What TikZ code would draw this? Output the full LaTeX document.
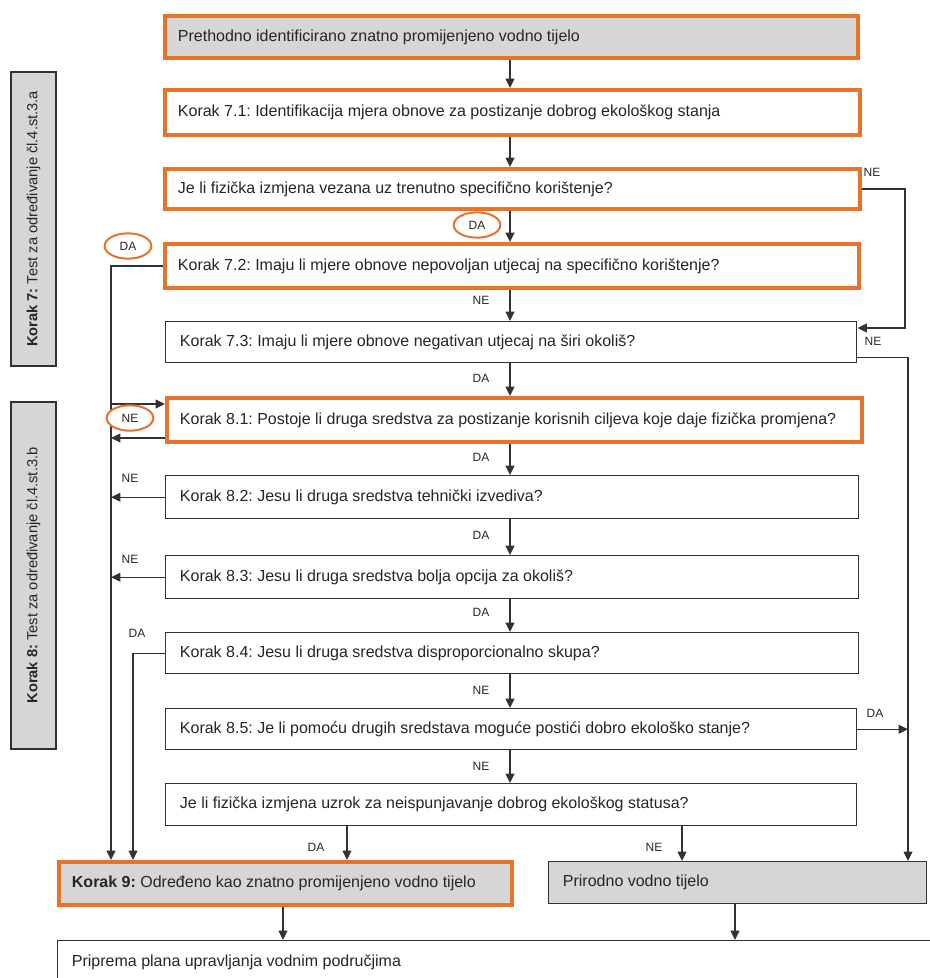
\documentclass[tikz,border=0pt]{standalone}
\usepackage{fontspec}
\setmainfont{Liberation Sans}
\usetikzlibrary{arrows.meta,calc,shapes.geometric}
\frenchspacing

\definecolor{hmorange}{RGB}{232,114,42}
\definecolor{hmgray}{RGB}{214,214,214}
\definecolor{hmline}{RGB}{50,50,50}

\tikzset{
  frame/.style={inner sep=0pt},
  keybox/.style={frame, draw=hmorange, line width=3pt, fill=white},
  keygray/.style={keybox, fill=hmgray},
  plainbox/.style={frame, draw=hmline, line width=1.1pt, fill=white},
  plaingray/.style={plainbox, fill=hmgray},
  sidebox/.style={frame, draw=hmline, line width=1.4pt, fill=hmgray},
  boxtext/.style={font=\fontsize{12}{14}\selectfont, text=black!85, inner sep=0pt},
  sidetext/.style={font=\fontsize{11}{13}\selectfont, text=black!85, inner sep=0pt, rotate=90},
  arr/.style={draw=hmline, line width=1.1pt, -{Triangle[length=7pt,width=6.5pt]}},
  link/.style={draw=hmline, line width=1.1pt},
  lab/.style={font=\fontsize{9}{10}\selectfont, text=black!85, inner sep=0pt},
  ring/.style={lab, ellipse, draw=hmorange, line width=1.5pt, fill=white,
               minimum width=35pt, minimum height=19pt}
}

% box with its text set flush left: style, name, x1, y1, x2, y2, text
\newcommand\flowbox[7]{%
  \pgfmathsetmacro\fbWidth{(#5-#3)*0.75}%
  \pgfmathsetmacro\fbHeight{(#6-#4)*0.75}%
  \node[#1, anchor=north west, minimum width=\fbWidth pt, minimum height=\fbHeight pt] (#2) at (#3,#4) {};
  \node[boxtext, anchor=west] (#2t) at ([xshift=11pt]#2.west) {#7};%
}

\begin{document}
\begin{tikzpicture}[x=0.75pt,y=-0.75pt]
\useasboundingbox (0,0) rectangle (930,978);

% guide columns for the connectors
\coordinate (mx) at (510,0);
\coordinate (lx) at (111,0);
\coordinate (lxb) at (133,0);
\coordinate (rx) at (905,0);
\coordinate (rxb) at (908,0);
\coordinate (dx) at (347,0);
\coordinate (nx) at (682,0);
\coordinate (bx) at (283,0);
\coordinate (bxb) at (735,0);

% side panels
\pgfmathsetmacro\sideW{45*0.75}
\node[sidebox, anchor=north west, minimum width=\sideW pt, minimum height={294*0.75pt}] (s7) at (10,71) {};
\node[sidetext] (s7t) at (s7.center) {\textbf{Korak 7:} Test za određivanje čl.4.st.3.a};
\node[sidebox, anchor=north west, minimum width=\sideW pt, minimum height={347*0.75pt}] (s8) at (10,401) {};
\node[sidetext] (s8t) at (s8.center) {\textbf{Korak 8:} Test za određivanje čl.4.st.3.b};

% main boxes
\flowbox{keygray}{p0}{163}{14}{856}{56}{Prethodno identificirano znatno promijenjeno vodno tijelo}
\flowbox{keybox}{k71}{163}{88}{858}{133}{Korak 7.1: Identifikacija mjera obnove za postizanje dobrog ekološkog stanja}
\flowbox{keybox}{q1}{163}{167}{858}{207}{Je li fizička izmjena vezana uz trenutno specifično korištenje?}
\flowbox{keybox}{k72}{163}{242}{857}{286}{Korak 7.2: Imaju li mjere obnove nepovoljan utjecaj na specifično korištenje?}
\flowbox{plainbox}{k73}{165}{321}{856}{362}{Korak 7.3: Imaju li mjere obnove negativan utjecaj na širi okoliš?}
\flowbox{keybox}{k81}{165}{396}{860}{440}{Korak 8.1: Postoje li druga sredstva za postizanje korisnih ciljeva koje daje fizička promjena?}
\flowbox{plainbox}{k82}{165}{475}{858}{518}{Korak 8.2: Jesu li druga sredstva tehnički izvediva?}
\flowbox{plainbox}{k83}{165}{555}{858}{598}{Korak 8.3: Jesu li druga sredstva bolja opcija za okoliš?}
\flowbox{plainbox}{k84}{165}{632}{858}{673}{Korak 8.4: Jesu li druga sredstva disproporcionalno skupa?}
\flowbox{plainbox}{k85}{165}{708}{856}{749}{Korak 8.5: Je li pomoću drugih sredstava moguće postići dobro ekološko stanje?}
\flowbox{plainbox}{q2}{165}{783}{856}{825}{Je li fizička izmjena uzrok za neispunjavanje dobrog ekološkog statusa?}
\flowbox{keygray}{k9}{57}{860}{510}{903}{\textbf{Korak 9:} Određeno kao znatno promijenjeno vodno tijelo}
\flowbox{plaingray}{pr}{548}{861}{926}{903}{Prirodno vodno tijelo}
\flowbox{plainbox}{pp}{57}{940}{945}{984}{Priprema plana upravljanja vodnim područjima}

% main column
\draw[arr] (p0.south -| mx) -- (k71.north -| mx);
\draw[arr] (k71.south -| mx) -- (q1.north -| mx);
\draw[arr] (q1.south -| mx) -- (k72.north -| mx);
\draw[arr] (k72.south -| mx) -- (k73.north -| mx);
\draw[arr] (k73.south -| mx) -- (k81.north -| mx);
\draw[arr] (k81.south -| mx) -- (k82.north -| mx);
\draw[arr] (k82.south -| mx) -- (k83.north -| mx);
\draw[arr] (k83.south -| mx) -- (k84.north -| mx);
\draw[arr] (k84.south -| mx) -- (k85.north -| mx);
\draw[arr] (k85.south -| mx) -- (q2.north -| mx);
\draw[arr] (q2.south -| dx) -- (k9.north -| dx);
\draw[arr] (q2.south -| nx) -- (pr.north -| nx);
\draw[arr] (k9.south -| bx) -- (pp.north -| bx);
\draw[arr] (pr.south -| bxb) -- (pp.north -| bxb);

% right-hand branches
\coordinate (k73in) at ($(k73.north east)+(0,7)$);
\coordinate (k73out) at ($(k73.south east)+(0,-6)$);
\draw[arr] (q1.east) -| (rx |- k73in) -- (k73in);
\draw[arr] (k73out) -| (rxb |- pr.north);
\draw[arr] (k85.east) -- (rxb |- k85.east);

% left-hand branches
\coordinate (k81in) at ($(k81.north west)+(0,8)$);
\coordinate (k81out) at ($(k81.south west)+(0,-6)$);
\draw[arr] (k72.west) -| (lx |- k9.north);
\draw[arr] (lx |- k81in) -- (k81in);
\draw[arr] (k81out) -- (lx |- k81out);
\draw[arr] (k82.west) -- (lx |- k82.west);
\draw[arr] (k83.west) -- (lx |- k83.west);
\draw[arr] (k84.west) -| (lxb |- k9.north);

% answer labels
\node[ring] (a1) at (477,225) {DA};
\node[lab] (a2) at (481,300) {NE};
\node[lab] (a3) at (481,378) {DA};
\node[lab] (a4) at (481,457) {DA};
\node[lab] (a5) at (481,535) {DA};
\node[lab] (a6) at (481,612) {DA};
\node[lab] (a7) at (481,690) {NE};
\node[lab] (a8) at (481,766) {NE};
\node[lab] (a9) at (316,847) {DA};
\node[lab] (a10) at (654,847) {NE};
\node[lab] (r1) at (872,172) {NE};
\node[lab] (r2) at (873,341) {NE};
\node[lab] (r3) at (875,713) {DA};
\node[ring] (l1) at (128,246) {DA};
\node[ring] (l2) at (130,418) {NE};
\node[lab] (l3) at (130,478) {NE};
\node[lab] (l4) at (130,559) {NE};
\node[lab] (l5) at (137,633) {DA};
\end{tikzpicture}
\end{document}
